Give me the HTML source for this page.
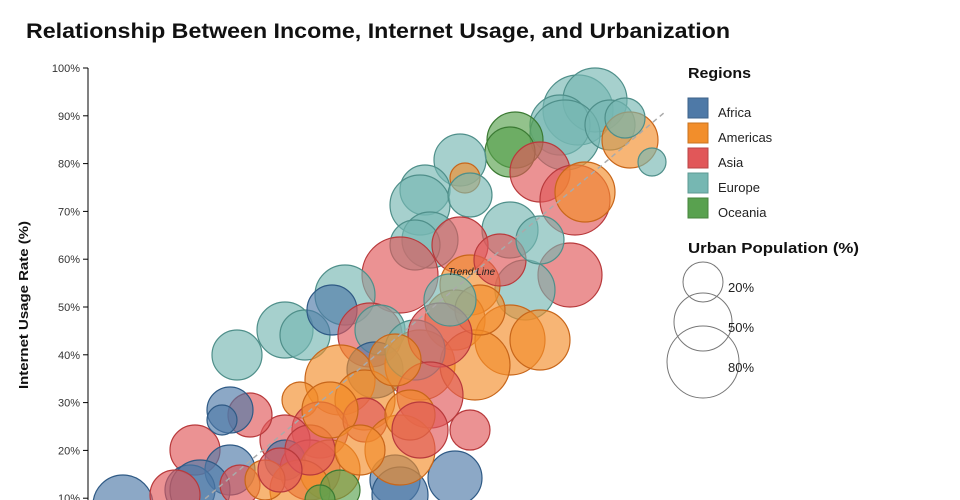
<!DOCTYPE html>
<html><head><meta charset="utf-8"><style>
html,body{margin:0;padding:0;background:#fff;width:960px;height:500px;overflow:hidden;font-family:"Liberation Sans",sans-serif}
svg{display:block;overflow:hidden}
</style></head><body>
<svg width="960" height="500" viewBox="0 0 960 500" xmlns="http://www.w3.org/2000/svg" font-family="Liberation Sans, sans-serif">
<text x="26" y="38" font-size="21" font-weight="bold" fill="#111" textLength="704" lengthAdjust="spacingAndGlyphs">Relationship Between Income, Internet Usage, and Urbanization</text>
<g id="b" stroke-width="1.2"></g>
<line x1="150" y1="545" x2="665" y2="112" stroke="#aaa" stroke-width="1.5" stroke-dasharray="5,4"/>
<text x="448" y="275" font-size="10" font-style="italic" fill="#222">Trend Line</text>
<line x1="88" y1="68" x2="88" y2="500" stroke="#000"/>
<g font-size="11" fill="#333" text-anchor="end" id="ax"></g>
<text transform="translate(28,305) rotate(-90)" font-size="13" font-weight="bold" text-anchor="middle" fill="#111" textLength="168" lengthAdjust="spacingAndGlyphs">Internet Usage Rate (%)</text>
<text x="688" y="78" font-size="15" font-weight="bold" fill="#111" textLength="63" lengthAdjust="spacingAndGlyphs">Regions</text>
<g font-size="13" fill="#222">
<rect x="688" y="98" width="20" height="20" fill="#4e79a7" stroke="#3d628a"/><text x="718" y="117">Africa</text>
<rect x="688" y="123" width="20" height="20" fill="#f28e2b" stroke="#c8731f"/><text x="718" y="142">Americas</text>
<rect x="688" y="148" width="20" height="20" fill="#e15759" stroke="#b84446"/><text x="718" y="167">Asia</text>
<rect x="688" y="173" width="20" height="20" fill="#76b7b2" stroke="#5c9893"/><text x="718" y="192">Europe</text>
<rect x="688" y="198" width="20" height="20" fill="#59a14f" stroke="#46843d"/><text x="718" y="217">Oceania</text>
</g>
<text x="688" y="253" font-size="15" font-weight="bold" fill="#111" textLength="171" lengthAdjust="spacingAndGlyphs">Urban Population (%)</text>
<g fill="none" stroke="#777">
<circle cx="703" cy="282" r="20"/><circle cx="703" cy="322" r="29"/><circle cx="703" cy="362" r="36"/>
</g>
<g font-size="13" fill="#222"><text x="728" y="292">20%</text><text x="728" y="332">50%</text><text x="728" y="372">80%</text></g>
</svg>
<script>
var ax=document.getElementById('ax'),ns='http://www.w3.org/2000/svg';
for(var v=10;v<=100;v+=10){var y=68+(100-v)*4.78;
var l=document.createElementNS(ns,'line');l.setAttribute('x1',83);l.setAttribute('x2',88);l.setAttribute('y1',y);l.setAttribute('y2',y);l.setAttribute('stroke','#000');ax.appendChild(l);
var t=document.createElementNS(ns,'text');t.setAttribute('x',80);t.setAttribute('y',y+4);t.textContent=v+'%';ax.appendChild(t);}
var C={f:['#4e79a7','#2f5a85'],m:['#f28e2b','#c8661a'],s:['#e15759','#b83a3c'],e:['#76b7b2','#4f8f8a'],o:['#59a14f','#3b7a33']};
var D=[
['e',578,110,35],['e',595,100,32],['e',560,125,30],['e',565,135,35],['e',610,125,25],['m',630,140,28],['e',625,118,20],['e',652,162,14],
['o',515,140,28],['o',510,152,25],['s',540,172,30],['e',460,160,26],['m',465,178,15],['e',425,190,25],['e',420,205,30],['e',430,240,28],['e',415,245,25],
['s',575,200,35],['m',585,192,30],['e',510,230,28],['e',470,195,22],['s',570,275,32],['s',400,275,38],['s',460,245,28],['e',525,290,30],
['m',470,285,30],['m',455,320,30],['e',345,295,30],['e',285,330,28],['e',305,335,25],['e',237,355,25],['f',332,310,25],['s',370,335,32],
['e',380,330,25],['f',375,370,28],['m',420,365,35],['m',510,340,35],['m',540,340,30],['m',475,365,35],['m',480,310,25],['e',415,350,30],
['s',440,335,32],['m',340,380,35],['m',300,400,18],['m',365,400,30],['s',430,395,33],['s',320,430,28],['s',285,440,25],['s',250,415,22],
['s',195,450,25],['s',365,420,22],['f',230,410,23],['f',222,420,15],['f',230,470,25],['f',285,460,20],['f',455,478,27],['f',395,480,25],
['f',400,495,28],['f',123,505,30],['f',190,490,25],['f',200,490,30],['s',175,495,25],['s',240,485,20],['s',310,470,30],['m',330,470,30],
['m',400,450,35],['m',300,490,30],['o',340,490,20],['o',320,500,15],['s',310,450,25],['m',410,415,25],['s',470,430,20],['m',265,480,20],
['m',330,410,28],['s',420,430,28],['m',360,450,25],['e',450,300,26],['s',500,260,26],['e',540,240,24],['m',395,360,26],['s',280,470,22]];
var g=document.getElementById('b');
D.forEach(function(d){var c=document.createElementNS(ns,'circle');c.setAttribute('cx',d[1]);c.setAttribute('cy',d[2]);c.setAttribute('r',d[3]);
c.setAttribute('fill',C[d[0]][0]);c.setAttribute('fill-opacity',0.65);c.setAttribute('stroke',C[d[0]][1]);g.appendChild(c);});
</script>
</body></html>
